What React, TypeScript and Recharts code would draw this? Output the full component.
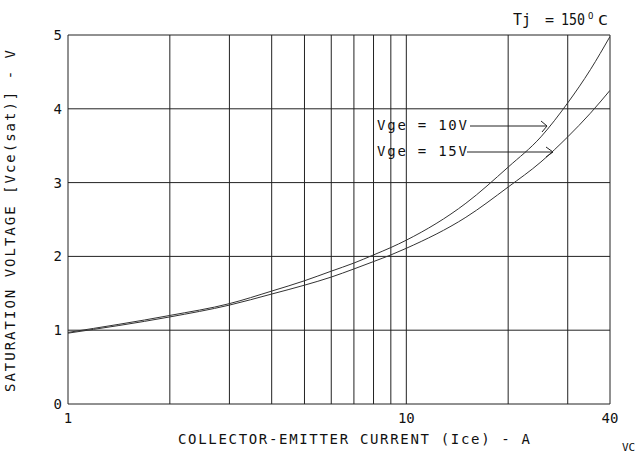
import React from 'react';
import { LineChart, Line, XAxis, YAxis, CartesianGrid } from 'recharts';

// collector current (A), log axis
const currents = [1, 2, 3, 4, 5, 6, 7, 8, 9, 10, 15, 20, 25, 30, 35, 40];
// Vce(sat) at Vge = 10V
const vge10 = [0.97, 1.2, 1.36, 1.53, 1.67, 1.8, 1.91, 2.02, 2.12, 2.22, 2.72, 3.21, 3.62, 4.08, 4.53, 4.98];
// Vce(sat) at Vge = 15V
const vge15 = [0.96, 1.18, 1.34, 1.49, 1.61, 1.72, 1.83, 1.93, 2.02, 2.11, 2.53, 2.94, 3.28, 3.62, 3.94, 4.25];

const xTicks = [1, 2, 3, 4, 5, 6, 7, 8, 9, 10, 20, 30, 40];
const xLabelled = [1, 10, 40];
const yTicks = [0, 1, 2, 3, 4, 5];

const data = currents.map((ice, i) => ({ ice, v10: vge10[i], v15: vge15[i] }));

const FONT = "'DejaVu Sans Mono', 'Liberation Mono', monospace";
const INK = '#111';

export default function App() {
  return (
    <div style={{ position: 'absolute', left: 0, top: 0, width: 635, height: 454, background: '#fff' }}>
      <LineChart width={635} height={454} data={data} margin={{ top: 35, right: 25, bottom: 30, left: 48 }}>
        <CartesianGrid stroke="#222" strokeWidth={1} />
        <XAxis
          dataKey="ice"
          type="number"
          scale="log"
          domain={[1, 40]}
          ticks={xTicks}
          tickFormatter={(v: number) => (xLabelled.includes(v) ? String(v) : '')}
          tickLine={false}
          axisLine={false}
          tickSize={0}
          tickMargin={9}
          height={20}
          interval={0}
          allowDataOverflow
          tick={{ fill: INK, fontSize: 14, fontFamily: FONT }}
        />
        <YAxis
          type="number"
          domain={[0, 5]}
          ticks={yTicks}
          tickLine={false}
          axisLine={false}
          tickSize={0}
          tickMargin={6}
          width={20}
          interval={0}
          tick={{ fill: INK, fontSize: 14, fontFamily: FONT }}
        />
        <Line type="monotone" dataKey="v10" stroke="#333" strokeWidth={1} dot={false} isAnimationActive={false} />
        <Line type="monotone" dataKey="v15" stroke="#333" strokeWidth={1} dot={false} isAnimationActive={false} />
      </LineChart>

      <svg
        width={635}
        height={454}
        style={{ position: 'absolute', left: 0, top: 0, pointerEvents: 'none' }}
        fontFamily={FONT}
        fill={INK}
      >
        {/* axis titles */}
        <text x={178} y={444} fontSize={14} textLength={352} lengthAdjust="spacing">
          COLLECTOR-EMITTER CURRENT (Ice) - A
        </text>
        <text
          x={0}
          y={0}
          fontSize={14}
          textLength={342}
          lengthAdjust="spacing"
          transform="translate(15, 392) rotate(-90)"
        >
          SATURATION VOLTAGE [Vce(sat)] - V
        </text>

        {/* temperature note */}
        <text x={513} y={25} fontSize={15}>Tj</text>
        <text x={545} y={25} fontSize={15}>=</text>
        <text x={561} y={25} fontSize={15} textLength={24} lengthAdjust="spacingAndGlyphs">150</text>
        <text x={588} y={19} fontSize={9}>O</text>
        <text x={598} y={25} fontSize={14} textLength={10} lengthAdjust="spacingAndGlyphs">C</text>

        {/* curve annotations */}
        <text x={377} y={130} fontSize={14} textLength={90} lengthAdjust="spacing">Vge = 10V</text>
        <line x1={470} y1={126} x2={547} y2={126} stroke="#222" strokeWidth={1} />
        <polyline points="541,121 547,126 542,132" stroke="#222" strokeWidth={1} fill="none" />
        <text x={377} y={156} fontSize={14} textLength={90} lengthAdjust="spacing">Vge = 15V</text>
        <line x1={467} y1={152} x2={553} y2={152} stroke="#222" strokeWidth={1} />
        <polyline points="546,147 553,152 546,157" stroke="#222" strokeWidth={1} fill="none" />

        <text x={622} y={451} fontSize={11}>VC</text>
      </svg>
    </div>
  );
}
